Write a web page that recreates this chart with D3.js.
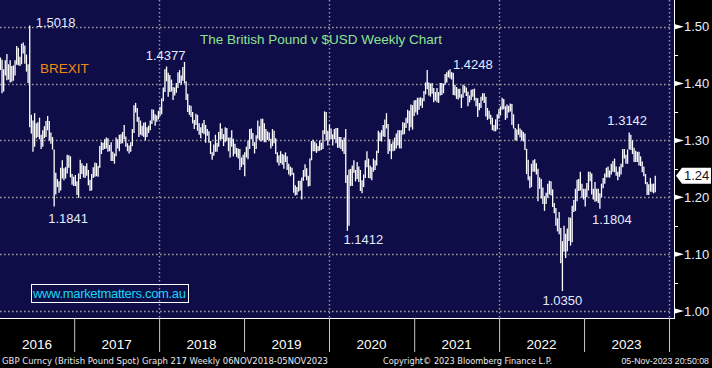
<!DOCTYPE html>
<html><head><meta charset="utf-8">
<script src="https://cdn.jsdelivr.net/npm/d3@7"></script>
<style>html,body{margin:0;padding:0;background:#000;overflow:hidden}</style>
</head><body><svg id="c" width="712" height="368"></svg>
<script>
// ---------- DATA ----------
const firstWeek = "2016-02-12"; // weekly bars, one per week (Friday)
const weeklyHigh = [
// 2016
1.452,1.446,1.442,
1.425,1.441,1.452,1.434,
1.441,1.431,1.432,1.441,1.466,
1.463,1.447,1.470,1.472,
1.467,1.451,1.434,1.502,
1.345,1.335,1.348,1.330,1.332,
1.340,1.310,1.318,1.325,
1.334,1.343,1.334,1.314,1.306,
1.284,1.243,1.232,1.228,
1.252,1.265,1.251,1.253,
1.275,1.274,1.272,1.241,1.236,
// 2017
1.239,1.228,1.242,1.266,
1.260,1.256,1.255,1.260,
1.248,1.231,1.241,1.253,1.261,
1.260,1.255,1.290,1.297,
1.296,1.302,1.305,1.304,
1.292,1.297,1.280,1.277,1.305,
1.302,1.310,1.311,1.315,
1.327,1.307,1.295,1.291,
1.297,1.320,1.362,1.366,1.357,
1.341,1.335,1.326,1.331,
1.332,1.323,1.326,1.335,
1.355,1.354,1.346,1.344,1.352,
// 2018
1.359,1.374,1.393,1.425,
1.430,1.419,1.415,1.407,
1.394,1.393,1.401,1.420,1.424,
1.414,1.429,1.438,1.404,
1.382,1.362,1.361,1.350,
1.336,1.347,1.345,1.330,1.323,
1.330,1.336,1.327,1.320,
1.316,1.299,1.279,1.293,1.310,
1.296,1.315,1.330,1.321,
1.311,1.323,1.322,1.305,
1.305,1.318,1.303,1.294,1.287,
1.286,1.285,1.270,1.275,
// 2019
1.279,1.289,1.300,1.320,
1.321,1.313,1.297,1.309,
1.335,1.325,1.338,1.338,1.330,
1.320,1.316,1.314,1.303,
1.320,1.317,1.304,1.279,1.274,
1.281,1.276,1.275,1.279,
1.272,1.259,1.254,1.252,
1.243,1.221,1.218,1.229,1.229,
1.235,1.248,1.258,1.251,
1.238,1.268,1.299,1.301,
1.298,1.295,1.290,1.300,1.296,
1.318,1.351,1.350,1.317,
// 2020
1.328,1.321,1.311,1.320,1.322,
1.322,1.306,1.306,1.301,
1.305,1.320,1.239,1.249,
1.250,1.256,1.265,1.248,
1.262,1.254,1.248,1.230,1.240,
1.265,1.281,1.268,1.256,
1.253,1.268,1.265,1.282,1.317,
1.314,1.318,1.327,1.337,
1.348,1.329,1.302,1.294,
1.298,1.305,1.312,1.318,1.318,
1.318,1.332,1.331,1.340,
1.354,1.352,1.363,1.362,
// 2021
1.370,1.371,1.375,1.375,1.376,
1.374,1.387,1.402,1.424,
1.402,1.400,1.401,1.392,
1.385,1.392,1.385,1.401,1.401,
1.400,1.417,1.420,1.423,
1.425,1.420,1.419,1.398,
1.394,1.391,1.391,1.381,1.398,
1.396,1.393,1.386,1.379,
1.389,1.390,1.391,1.375,
1.374,1.366,1.377,1.383,1.383,
1.377,1.357,1.352,1.345,
1.340,1.327,1.337,1.346,1.355,
// 2022
1.360,1.375,1.373,1.360,
1.363,1.361,1.365,1.364,
1.346,1.322,1.319,1.329,
1.321,1.318,1.315,1.312,1.285,
1.266,1.237,1.259,1.265,
1.267,1.260,1.250,1.235,
1.232,1.217,1.202,1.208,1.224,
1.229,1.228,1.214,1.190,
1.181,1.163,1.174,1.146,1.123,
1.150,1.136,1.145,1.165,
1.164,1.185,1.195,1.215,
1.231,1.232,1.245,1.224,1.215,
// 2023
1.215,1.225,1.245,1.245,
1.242,1.215,1.227,1.215,
1.215,1.207,1.224,1.234,1.242,
1.252,1.254,1.247,1.259,
1.264,1.268,1.254,1.245,
1.254,1.259,1.285,1.285,1.275,
1.284,1.314,1.310,1.300,
1.287,1.282,1.280,1.280,
1.272,1.263,1.254,1.241,1.227,
1.223,1.234,1.224,1.224,
1.238
];
const weeklyLow = [
// 2016
1.434,1.424,1.383,
1.386,1.414,1.406,1.407,
1.402,1.403,1.405,1.414,1.433,
1.432,1.431,1.434,1.453,
1.435,1.421,1.401,1.323,
1.312,1.280,1.289,1.304,1.306,
1.302,1.285,1.289,1.304,
1.306,1.318,1.300,1.294,1.284,
1.184,1.205,1.218,1.208,
1.212,1.233,1.230,1.233,
1.242,1.252,1.235,1.222,1.220,
// 2017
1.220,1.204,1.199,1.232,
1.241,1.235,1.234,1.238,
1.221,1.211,1.212,1.234,1.236,
1.237,1.236,1.252,1.276,
1.283,1.285,1.286,1.280,
1.281,1.264,1.264,1.259,1.272,
1.286,1.281,1.294,1.295,
1.302,1.289,1.281,1.277,
1.280,1.290,1.313,1.349,1.333,
1.306,1.310,1.308,1.306,
1.300,1.306,1.313,1.318,
1.329,1.335,1.326,1.333,1.337,
// 2018
1.343,1.346,1.369,1.385,
1.404,1.377,1.385,1.386,
1.371,1.379,1.384,1.392,1.401,
1.398,1.405,1.400,1.371,
1.350,1.345,1.341,1.330,
1.320,1.327,1.317,1.310,1.304,
1.313,1.311,1.296,1.308,
1.296,1.276,1.266,1.273,1.280,
1.280,1.289,1.301,1.302,
1.290,1.297,1.299,1.281,
1.270,1.289,1.272,1.276,1.271,
1.268,1.248,1.253,1.257,
// 2019
1.237,1.270,1.267,1.285,
1.302,1.290,1.277,1.285,
1.303,1.300,1.298,1.300,1.297,
1.297,1.301,1.300,1.286,
1.290,1.295,1.276,1.261,1.256,
1.260,1.257,1.250,1.262,
1.248,1.240,1.237,1.239,
1.208,1.203,1.204,1.210,1.212,
1.196,1.229,1.236,1.230,
1.219,1.220,1.265,1.281,
1.281,1.278,1.281,1.282,1.283,
1.285,1.311,1.300,1.291,
// 2020
1.301,1.302,1.291,1.302,1.295,
1.287,1.287,1.285,1.281,
1.276,1.225,1.141,1.150,
1.220,1.220,1.243,1.228,
1.232,1.227,1.211,1.207,1.218,
1.234,1.253,1.234,1.233,
1.230,1.245,1.248,1.256,1.278,
1.299,1.298,1.307,1.306,
1.321,1.276,1.281,1.267,
1.281,1.282,1.286,1.291,1.286,
1.286,1.310,1.311,1.322,
1.330,1.317,1.323,1.319,
// 2021
1.343,1.349,1.345,1.354,1.361,
1.357,1.369,1.381,1.390,
1.379,1.377,1.382,1.367,
1.370,1.367,1.366,1.379,1.380,
1.383,1.398,1.402,1.411,
1.409,1.407,1.380,1.379,
1.373,1.372,1.375,1.357,1.375,
1.384,1.378,1.360,1.367,
1.371,1.377,1.370,1.360,
1.341,1.353,1.357,1.370,1.366,
1.342,1.336,1.338,1.328,
1.318,1.316,1.316,1.319,1.338,
// 2022
1.344,1.354,1.355,1.336,
1.339,1.349,1.351,1.327,
1.321,1.300,1.300,1.310,
1.305,1.300,1.298,1.283,1.241,
1.230,1.216,1.218,1.245,
1.245,1.240,1.193,1.215,
1.198,1.188,1.176,1.188,1.199,
1.205,1.203,1.183,1.172,
1.150,1.140,1.135,1.084,1.035,
1.104,1.093,1.105,1.123,
1.115,1.121,1.174,1.176,
1.193,1.211,1.212,1.199,1.196,
// 2023
1.184,1.200,1.212,1.228,
1.205,1.196,1.192,1.193,
1.190,1.180,1.200,1.216,1.224,
1.235,1.235,1.235,1.240,
1.245,1.244,1.238,1.230,
1.236,1.240,1.253,1.268,1.259,
1.259,1.284,1.283,1.276,
1.262,1.262,1.262,1.256,
1.255,1.244,1.237,1.223,1.204,
1.204,1.210,1.209,1.207,
1.209
];
const yearLabels = ["2016","2017","2018","2019","2020","2021","2022","2023"];
const gridYears = [2018, 2020, 2022, 2024];
const yTickValues = [1.00, 1.10, 1.20, 1.30, 1.40, 1.50];
const yMinorValues = [1.05, 1.15, 1.25, 1.35, 1.45];
const lastPrice = 1.2378;
const lastPriceLabel = "1.24";
const annLabels = ["1.5018","1.4377","1.4248","1.3142","1.1841","1.1412","1.1804","1.0350"];
const annDates  = ["2016-06-24","2018-04-20","2021-06-04","2023-07-14","2016-10-07","2020-03-20","2023-03-10","2022-09-30"];
const annValues = [1.5018,1.4377,1.4248,1.3142,1.1841,1.1412,1.1804,1.0350];
const titleText = "The British Pound v $USD Weekly Chart";
const eventText = "BREXIT";
const siteText = "www.marketmatters.com.au";
const footerLeft = "GBP Curncy (British Pound Spot) Graph 217  Weekly 06NOV2018-05NOV2023";
const footerMid = "Copyright\u00A9 2023 Bloomberg Finance L.P.";
const footerRight = "05-Nov-2023 20:50:08";

// ---------- DRAW ----------
const parse = d3.timeParse("%Y-%m-%d");
const start = parse(firstWeek);
const bars = weeklyHigh.map((h, i) => ({date: d3.timeDay.offset(start, 7 * i), high: h, low: weeklyLow[i]}));

const svg = d3.select("#c");
const plotW = 674, plotH = 318;
const x = d3.scaleTime().domain([new Date(2016,0,1), new Date(2024,0,1)]).range([-11, 669]);
const y = d3.scaleLinear().domain([1.0, 1.5]).range([311, 26.7]);

svg.append("rect").attr("width", 712).attr("height", 368).attr("fill", "#000");
svg.append("rect").attr("width", plotW).attr("height", plotH).attr("fill", "#0e0d48");

const defs = svg.append("defs");
defs.append("clipPath").attr("id", "pc").append("rect").attr("width", plotW).attr("height", plotH);

const grid = svg.append("g").attr("stroke", "#9a9a9a").attr("stroke-width", 1.4).attr("stroke-dasharray", "1.6,2.4");
grid.selectAll("line.h").data(yTickValues).join("line").attr("class","h")
  .attr("x1", 0).attr("x2", 671).attr("y1", d => Math.round(y(d)) + 0.5).attr("y2", d => Math.round(y(d)) + 0.5);
grid.selectAll("line.v").data(gridYears).join("line").attr("class","v")
  .attr("x1", d => Math.round(x(new Date(d,0,1))) + 0.5).attr("x2", d => Math.round(x(new Date(d,0,1))) + 0.5)
  .attr("y1", 0).attr("y2", plotH);

// weekly bars
svg.append("g").attr("clip-path", "url(#pc)")
  .selectAll("line").data(bars).join("line")
  .attr("x1", d => x(d.date)).attr("x2", d => x(d.date))
  .attr("y1", d => y(d.high)).attr("y2", d => y(d.low))
  .attr("stroke", "#fff").attr("stroke-width", 1.3);

// frame lines
svg.append("line").attr("x1", 0).attr("x2", plotW).attr("y1", 318.5).attr("y2", 318.5).attr("stroke", "#fff").attr("stroke-width", 1);
svg.append("line").attr("x1", 674.5).attr("x2", 674.5).attr("y1", 0).attr("y2", 319).attr("stroke", "#fff").attr("stroke-width", 1);

// bottom axis ticks
const xAxis = d3.axisBottom(x).ticks(d3.timeYear.every(1)).tickSize(34).tickFormat("");
const gx = svg.append("g").attr("transform", "translate(0,318)").call(xAxis);
gx.select(".domain").remove();
gx.selectAll(".tick line").attr("stroke", "#c8c8c8");
svg.append("g").selectAll("text").data(yearLabels).join("text")
  .attr("x", d => { const a = Math.max(0, x(new Date(+d,0,1))), b = x(new Date(+d+1,0,1)); return (a + b) / 2; })
  .attr("y", 349).attr("text-anchor", "middle")
  .attr("fill", "#fff").attr("font-family", "Liberation Sans, Arial, sans-serif").attr("font-size", 13.5)
  .text(d => d);

// right axis
const ra = svg.append("g");
ra.selectAll("path.tri").data(yTickValues).join("path").attr("class","tri")
  .attr("d", d => { const yy = y(d); return `M675,${yy-2.5}L684,${yy}L675,${yy+2.5}Z`; })
  .attr("fill", "#fff");
ra.selectAll("line.mn").data(yMinorValues).join("line").attr("class","mn")
  .attr("x1", 674).attr("x2", 678).attr("y1", d => Math.round(y(d)) + 0.5).attr("y2", d => Math.round(y(d)) + 0.5)
  .attr("stroke", "#fff");
ra.selectAll("text").data(yTickValues).join("text")
  .attr("x", 684).attr("y", d => y(d) + 4.5)
  .attr("fill", "#e8eeff").attr("font-family", "Liberation Sans, Arial, sans-serif").attr("font-size", 13)
  .text(d => d3.format(".2f")(d));

// last price marker
const ly = y(lastPrice);
svg.append("path").attr("d", `M676,${ly}L682,${ly-8}L711,${ly-8}L711,${ly+8}L682,${ly+8}Z`).attr("fill", "#fff");
svg.append("text").attr("x", 684).attr("y", ly + 4.5).attr("fill", "#111").attr("font-family", "Liberation Sans, Arial, sans-serif").attr("font-size", 13).text(lastPriceLabel);

// annotations
const annLayout = [
  {dx: 6, dy: 1.5, anchor: "start"},
  {dx: 1, dy: -2, anchor: "end"},
  {dx: 3, dy: 0, anchor: "start"},
  {dx: -2, dy: -7, anchor: "middle"},
  {dx: 14, dy: 17, anchor: "middle"},
  {dx: 16, dy: 13, anchor: "middle"},
  {dx: 12, dy: 15.5, anchor: "middle"},
  {dx: 0, dy: 14, anchor: "middle"}
];
svg.append("g").selectAll("text").data(annLabels).join("text")
  .attr("x", (d, i) => x(parse(annDates[i])) + annLayout[i].dx)
  .attr("y", (d, i) => y(annValues[i]) + annLayout[i].dy)
  .attr("text-anchor", (d, i) => annLayout[i].anchor)
  .attr("fill", "#e4ebff").attr("font-family", "Liberation Sans, Arial, sans-serif").attr("font-size", 13)
  .text(d => d);

// title and labels
svg.append("text").attr("x", 200).attr("y", 44).attr("fill", "#8ee38e")
  .attr("font-family", "Liberation Sans, Arial, sans-serif").attr("font-size", 13.5).text(titleText);
svg.append("text").attr("x", 40).attr("y", 73).attr("fill", "#f28a12")
  .attr("font-family", "Liberation Sans, Arial, sans-serif").attr("font-size", 13.5).text(eventText);

// website box
svg.append("rect").attr("x", 31.5).attr("y", 284.5).attr("width", 157).attr("height", 18).attr("fill", "none").attr("stroke", "#fff");
svg.append("text").attr("x", 33).attr("y", 298).attr("fill", "#19d5f0")
  .attr("font-family", "Liberation Sans, Arial, sans-serif").attr("font-size", 13).attr("textLength", 153).text(siteText);

// footer
const ff = "DejaVu Sans, sans-serif";
svg.append("text").attr("x", 2).attr("y", 364).attr("fill", "#e8e8f0").attr("font-family", ff).attr("font-size", 9.5)
  .attr("textLength", 326).attr("lengthAdjust", "spacingAndGlyphs").text(footerLeft);
svg.append("text").attr("x", 383).attr("y", 364).attr("fill", "#e8e8f0").attr("font-family", ff).attr("font-size", 9.5)
  .attr("textLength", 169).attr("lengthAdjust", "spacingAndGlyphs").text(footerMid);
svg.append("text").attr("x", 709).attr("y", 364).attr("text-anchor", "end").attr("fill", "#e8e8f0")
  .attr("font-family", "Liberation Sans, Arial, sans-serif").attr("font-size", 8.8).text(footerRight);
</script></body></html>
